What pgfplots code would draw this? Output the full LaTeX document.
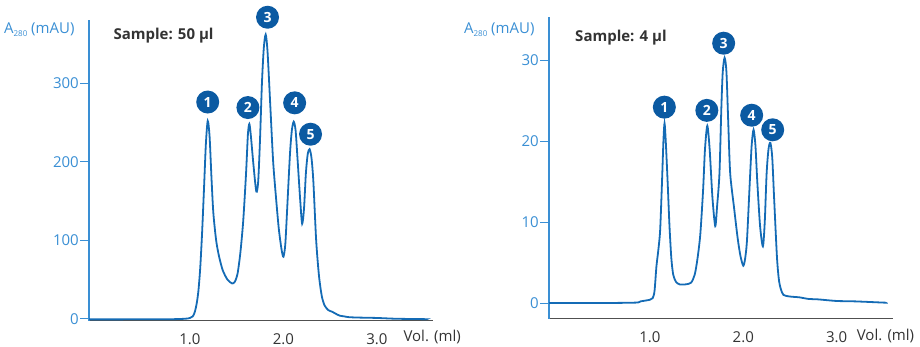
\documentclass[border=0pt]{standalone}
\usepackage{pgfplots}
\pgfplotsset{compat=1.18}
\usepackage{fontspec}
\setmainfont{Open Sans}
\definecolor{curve}{HTML}{146BB5}
\definecolor{circ}{HTML}{0B5AA2}
\definecolor{yblue}{HTML}{3A8FD4}
\definecolor{xgray}{HTML}{505050}
\definecolor{txt}{HTML}{333333}
\begin{document}
\begin{tikzpicture}
\useasboundingbox (0pt,0pt) rectangle (920pt,346pt);
\pgfplotsset{
  chrom/.style={
    scale only axis, clip=false,
    axis x line=bottom, axis y line=left,
    axis line style={-},
    x axis line style={draw=xgray, line width=1.1pt},
    y axis line style={draw=yblue, line width=1.2pt},
    tick align=outside,
    major tick length=9pt, minor tick length=3pt,
    ytick style={draw=yblue, line width=1pt},
    xtick style={draw=none},
    minor xtick={0,0.5,1,1.5,2,2.5,3,3.5},
    minor tick style={draw=xgray!70, line width=0.6pt},
    xtick={1,2,3}, xticklabels={1.0,2.0,3.0},
    /pgf/number format/assume math mode=true,
    xticklabel style={font=\fontsize{15}{18}\selectfont, text=txt},
    yticklabel style={font=\fontsize{15}{18}\selectfont, text=yblue, inner sep=1pt},
    xmin=-0.08, xmax=3.6,
  },
  circ/.style={draw=none, nodes near coords, point meta=explicit symbolic,
    every node near coord/.style={circle, fill=circ, text=white,
      font=\bfseries\fontsize{14}{14}\selectfont, inner sep=0pt, minimum size=23pt, anchor=center}},
  curv/.style={curve, line width=1.8pt, smooth, tension=0.45, mark=none},
}
% Left: 50 ul
\begin{axis}[chrom, at={(89pt,25.3pt)}, anchor=south west, width=344pt, height=300.7pt,
  ymin=-2.5, ymax=380.5, ytick={0,100,200,300}]
\addplot[curv] coordinates {
(-0.08,-0.8) (0.2,-0.8) (0.5,-0.7) (0.8,-0.6) (0.95,0) (1.0,1) (1.03,3) (1.05,8) (1.07,18) (1.09,35) (1.11,65) (1.13,110) (1.15,165) (1.17,222) (1.19,252) (1.21,232) (1.23,180) (1.25,135) (1.28,100) (1.31,80) (1.35,62) (1.40,50) (1.45,45) (1.48,47) (1.51,58) (1.54,85) (1.57,125) (1.60,185) (1.62,235) (1.635,248) (1.65,235) (1.68,195) (1.71,162) (1.73,175) (1.75,230) (1.77,300) (1.79,345) (1.81,362) (1.83,340) (1.86,270) (1.89,200) (1.92,155) (1.95,115) (1.98,88) (2.00,79) (2.02,95) (2.04,140) (2.07,210) (2.09,240) (2.11,251) (2.13,240) (2.15,205) (2.18,150) (2.20,121) (2.22,140) (2.24,185) (2.26,210) (2.28,216) (2.30,205) (2.32,175) (2.35,100) (2.38,55) (2.41,29) (2.44,17) (2.48,11) (2.52,9) (2.55,7) (2.60,4) (2.65,3) (2.70,2) (2.8,1.5) (3.0,1) (3.2,0) (3.5,-0.5) (3.53,-0.6)
};
\addplot[circ] coordinates {(1.19,276)[1] (1.62,269)[2] (1.83,384)[3] (2.12,275)[4] (2.29,235)[5]};
\node[anchor=base east, font=\fontsize{15}{18}\selectfont, text=yblue] at (rel axis cs:0,1) [xshift=-11pt, yshift=-14pt] {A\raisebox{-0.35ex}{\fontsize{8}{8}\selectfont 280} (mAU)};
\node[anchor=base west, font=\bfseries\fontsize{15}{18}\selectfont, text=txt] at (rel axis cs:0,1) [xshift=21pt, yshift=-20pt] {Sample: 50 µl};
\node[anchor=base west, font=\fontsize{15}{18}\selectfont, text=txt] at (rel axis cs:1,0) [xshift=-33pt, yshift=-21pt] {Vol. (ml)};
\end{axis}
% Right: 4 ul
\begin{axis}[chrom, at={(549pt,27.3pt)}, anchor=south west, width=343.7pt, height=301.4pt,
  ymin=-1.94, ymax=35.3, ytick={0,10,20,30}]
\addplot[curv] coordinates {
(-0.08,0) (0.5,0) (0.85,0.05) (0.9,0.2) (1.0,0.4) (1.03,0.6) (1.05,1.5) (1.07,4.5) (1.09,6.5) (1.11,9) (1.13,15) (1.145,20) (1.157,22.2) (1.17,20) (1.19,15) (1.21,9.5) (1.23,5.5) (1.25,3.5) (1.28,2.6) (1.32,2.3) (1.38,2.3) (1.44,2.5) (1.48,3.5) (1.51,5.5) (1.54,8.5) (1.57,14) (1.59,19) (1.615,21.9) (1.64,19) (1.67,13) (1.70,9.5) (1.72,12) (1.745,16) (1.765,24) (1.78,28.5) (1.80,30.3) (1.82,28.5) (1.84,22) (1.86,16) (1.90,11.9) (1.94,8) (1.97,5.8) (2.00,4.6) (2.02,5.5) (2.04,7.8) (2.07,15) (2.09,19.5) (2.11,21.4) (2.13,19.5) (2.15,15) (2.18,9.5) (2.21,7) (2.23,10) (2.25,16) (2.27,19) (2.29,19.8) (2.31,18) (2.33,13) (2.36,5.8) (2.38,3) (2.40,1.8) (2.43,1.0) (2.5,0.8) (2.6,0.7) (2.7,0.5) (2.8,0.45) (3.0,0.25) (3.2,0.2) (3.5,0.05) (3.53,0.05)
};
\addplot[circ] coordinates {(1.155,24.2)[1] (1.61,23.8)[2] (1.79,32.1)[3] (2.09,23.2)[4] (2.315,21.4)[5]};
\node[anchor=base east, font=\fontsize{15}{18}\selectfont, text=yblue] at (rel axis cs:0,1) [xshift=-11pt, yshift=-16pt] {A\raisebox{-0.35ex}{\fontsize{8}{8}\selectfont 280} (mAU)};
\node[anchor=base west, font=\bfseries\fontsize{15}{18}\selectfont, text=txt] at (rel axis cs:0,1) [xshift=22.7pt, yshift=-24.4pt] {Sample: 4 µl};
\node[anchor=base west, font=\fontsize{15}{18}\selectfont, text=txt] at (rel axis cs:1,0) [xshift=-39.4pt, yshift=-22pt] {Vol. (ml)};
\end{axis}
\end{tikzpicture}
\end{document}
